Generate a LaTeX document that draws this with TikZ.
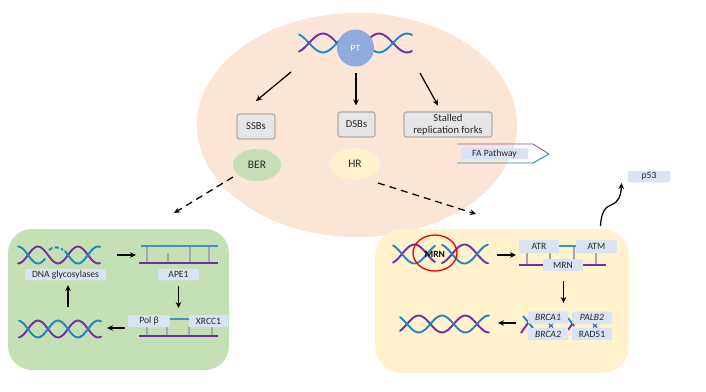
\documentclass[tikz,border=0pt]{standalone}
\usepackage{fontspec}
\setmainfont{Carlito}
\usetikzlibrary{arrows.meta,shapes.geometric}
\definecolor{dnablue}{HTML}{1F86C4}
\definecolor{dnapurple}{HTML}{7030A0}
\definecolor{labelfill}{HTML}{DAE3F3}
\definecolor{grayfill}{HTML}{E7E6E6}
\definecolor{grayline}{HTML}{AFABAB}
\definecolor{peach}{HTML}{FBE5D6}
\definecolor{greenpanel}{HTML}{C5E0B4}
\definecolor{yellowpanel}{HTML}{FFF2CC}
\definecolor{ptblue}{HTML}{8FAADC}
\definecolor{txt}{HTML}{262626}
\tikzset{
  blue strand/.style={draw=dnablue,line width=1.9pt},
  purple strand/.style={draw=dnapurple,line width=1.9pt},
  rail blue/.style={draw=dnablue!70!ptblue,line width=1.7pt},
  rail purple/.style={draw=dnapurple,line width=1.7pt},
  rung/.style={draw=gray!70,line width=1.2pt},
  flow/.style={draw=black,line width=1.25pt,-{Stealth[length=6pt,width=5.5pt]}},
  dashflow/.style={draw=black,line width=1.25pt,dash pattern=on 7pt off 5pt,-{Stealth[length=6pt,width=5.5pt]}},
  tag/.style={fill=labelfill,text=txt,inner sep=0pt,rounded corners=0.8pt,font=\fontsize{9.6}{10}\selectfont},
  gene/.style={tag,font=\itshape\fontsize{9.6}{10}\selectfont},
  lesion/.style={draw=grayline,line width=1.2pt,fill=grayfill,rounded corners=2.5pt,text=txt,inner sep=0pt,align=center,font=\fontsize{10.6}{12.4}\selectfont},
  pathway/.style={ellipse,inner sep=0pt,text=txt,font=\fontsize{11.5}{13}\selectfont},
}
% strand pair: left end, right end, first crossing, period, centre, amplitude
\newcommand{\bluewave}[6]{\draw[blue strand,line cap=round] plot[smooth,samples=36,domain=#1:#2] (\x,{#5+#6*sin((\x-#3)/#4*360)});}
\newcommand{\purplewave}[6]{\draw[purple strand,line cap=round] plot[smooth,samples=36,domain=#1:#2] (\x,{#5-#6*sin((\x-#3)/#4*360)});}
\newcommand{\duplex}[6]{\purplewave{#1}{#2}{#3}{#4}{#5}{#6}\bluewave{#1}{#2}{#3}{#4}{#5}{#6}}
\begin{document}
\begin{tikzpicture}[x=1pt,y=-1pt]
\useasboundingbox (0,0) rectangle (706,391);

% outer cell
\fill[peach] (357,125) ellipse [x radius=160,y radius=112];

% damage source
\duplex{299}{412}{309}{56}{43}{9.5}
\node[circle,fill=ptblue,minimum size=37pt,inner sep=0pt,text=white,font=\fontsize{9.6}{10}\selectfont] (pt) at (355.5,48) {PT};

\node[lesion,minimum width=38pt,minimum height=25pt] (ssb) at (256,126.5) {SSBs};
\node[lesion,minimum width=37pt,minimum height=25pt] (dsb) at (356.5,124.5) {DSBs};
\node[lesion,minimum width=88pt,minimum height=25pt] (forks) at (448,124.5) {Stalled\\replication forks};

\coordinate (a1s) at (291,72); \coordinate (a1e) at (256,101);
\coordinate (a2s) at (356,73); \coordinate (a2e) at (356,105.5);
\coordinate (a3s) at (420,73); \coordinate (a3e) at (438,105.5);
\draw[flow] (a1s) -- (a1e);
\draw[flow] (a2s) -- (a2e);
\draw[flow] (a3s) -- (a3e);

\node[pathway,fill=greenpanel,minimum width=48pt,minimum height=32pt] (ber) at (257,165) {BER};
\node[pathway,fill=yellowpanel,minimum width=50pt,minimum height=32pt] (hr) at (355,164) {HR};

% Fanconi anaemia pathway tag
\coordinate (fa1) at (457,144); \coordinate (fa2) at (533,144); \coordinate (fa3) at (549,154);
\coordinate (fa4) at (533,163); \coordinate (fa5) at (457,163);
\draw[draw=dnapurple!80,line width=0.9pt] (fa1) -- (fa2) -- (fa3);
\draw[draw=dnablue,line width=0.9pt] (fa3) -- (fa4) -- (fa5);
\node[tag,minimum width=67pt,minimum height=11pt] (fa) at (494.5,153.5) {FA Pathway};

% repair panels
\fill[greenpanel,rounded corners=24pt] (8,229) rectangle (229,370);
\fill[yellowpanel,rounded corners=27pt] (375,229) rectangle (629,373);

\coordinate (d1s) at (233,177); \coordinate (d1e) at (174,213);
\coordinate (d2s) at (378,183); \coordinate (d2e) at (476,214);
\draw[dashflow] (d1s) -- (d1e);
\draw[dashflow] (d2s) -- (d2e);

% base excision repair cycle
\purplewave{18}{100}{28}{40}{255}{8.5}
\bluewave{18}{45}{28}{40}{255}{8.5}
\bluewave{65}{100}{28}{40}{255}{8.5}
\draw[blue strand,dash pattern=on 4pt off 2.5pt] (49,250) .. controls (52,246.5) and (60,246.5) .. (63,250);
\duplex{19}{101}{28}{40}{329}{8.5}

\draw[rung] (147,246) -- (147,263);
\draw[rung] (168,253) -- (168,263);
\draw[rung] (190,246) -- (190,263);
\draw[rung] (209,246) -- (209,263);
\draw[rail blue] (141,246) -- (218,246);
\draw[rail purple] (139,263) -- (218,263);

\draw[rung] (147,327) -- (147,336);
\draw[rung] (167,327) -- (167,336);
\draw[rung] (189,327) -- (189,336);
\draw[rung] (212,327) -- (212,336);
\draw[rail purple] (139,336) -- (218,336);

\node[tag,minimum width=81pt,minimum height=11.5pt] (glyco) at (65.5,274.5) {DNA glycosylases};
\node[tag,minimum width=41pt,minimum height=11.5pt] (ape) at (178.5,274.5) {APE1};
\node[tag,minimum width=42pt,minimum height=12pt] (pol) at (149,321) {Pol β};
\node[tag,minimum width=39pt,minimum height=12pt] (xrcc) at (208.5,321) {XRCC1};
\draw[rail blue] (pol.east) ++(0,-2) coordinate (gapl) -- (gapl -| xrcc.west);

\coordinate (b1s) at (117,255); \coordinate (b1e) at (136,255);
\coordinate (b2s) at (178.5,286); \coordinate (b2e) at (178.5,308);
\coordinate (b3s) at (125,328); \coordinate (b3e) at (107,328);
\coordinate (b4s) at (68,307); \coordinate (b4e) at (68,285);
\draw[flow] (b1s) -- (b1e);
\draw[flow] (b2s) -- (b2e);
\draw[flow] (b3s) -- (b3e);
\draw[flow] (b4s) -- (b4e);

% homologous recombination cycle
\duplex{393}{435}{402}{50}{254}{9.5}
\duplex{442}{488}{402}{50}{254}{9.5}
\node[text=black,inner sep=0pt,font=\bfseries\fontsize{9.6}{10}\selectfont] (mrnbreak) at (435,254) {MRN};
\draw[draw=red!90!black,line width=1.3pt] (435,253) ellipse [x radius=22,y radius=18];

\draw[rung] (527,250) -- (527,265);
\draw[rung] (550,250) -- (550,262);
\draw[rung] (574,246) -- (574,262);
\draw[rung] (596,250) -- (596,265);
\draw[rail blue] (555,246) -- (580,246);
\draw[rail purple] (519,265) -- (606,265);
\node[tag,minimum width=40pt,minimum height=13pt] (atr) at (539,246.5) {ATR};
\node[tag,minimum width=41pt,minimum height=13pt] (atm) at (596.5,246.5) {ATM};
\node[tag,minimum width=40pt,minimum height=12pt] (mrn) at (563,265) {MRN};

\duplex{400}{489}{407}{46.7}{324}{8.5}

\draw[blue strand] (523,316) -- (533,328);
\draw[purple strand] (521,333) -- (528,323);
\draw[blue strand] (568,318) -- (574,326);
\draw[purple strand] (568,330) -- (573,323);
\node[gene,minimum width=40pt,minimum height=12pt] (brca1) at (548,317.5) {BRCA1};
\node[gene,minimum width=40pt,minimum height=12pt] (brca2) at (548,334) {BRCA2};
\node[gene,minimum width=40pt,minimum height=12pt] (palb) at (592,317.5) {PALB2};
\node[tag,minimum width=40pt,minimum height=12pt] (rad) at (592,334) {RAD51};
\draw[dnapurple,line width=1.2pt] (549,324) -- (553,327.5);
\draw[dnablue,line width=1.2pt] (553,324) -- (549,327.5);
\draw[dnapurple,line width=1.2pt] (593,324) -- (597,327.5);
\draw[dnablue,line width=1.2pt] (597,324) -- (593,327.5);

\coordinate (c1s) at (497,255); \coordinate (c1e) at (516,255);
\coordinate (c2s) at (563.5,281); \coordinate (c2e) at (563.5,303);
\coordinate (c3s) at (516,323); \coordinate (c3e) at (498,323);
\draw[flow] (c1s) -- (c1e);
\draw[flow] (c2s) -- (c2e);
\draw[flow] (c3s) -- (c3e);

% signalling towards p53
\node[tag,minimum width=42pt,minimum height=11.5pt] (p53) at (649,176.5) {p53};
\coordinate (pstart) at (600.5,226);
\coordinate (pend) at (621.5,183);
\draw[flow] (pstart) .. controls (601,213) and (605,207) .. (611,205) .. controls (618,203) and (621,196) .. (pend);
\end{tikzpicture}
\end{document}
